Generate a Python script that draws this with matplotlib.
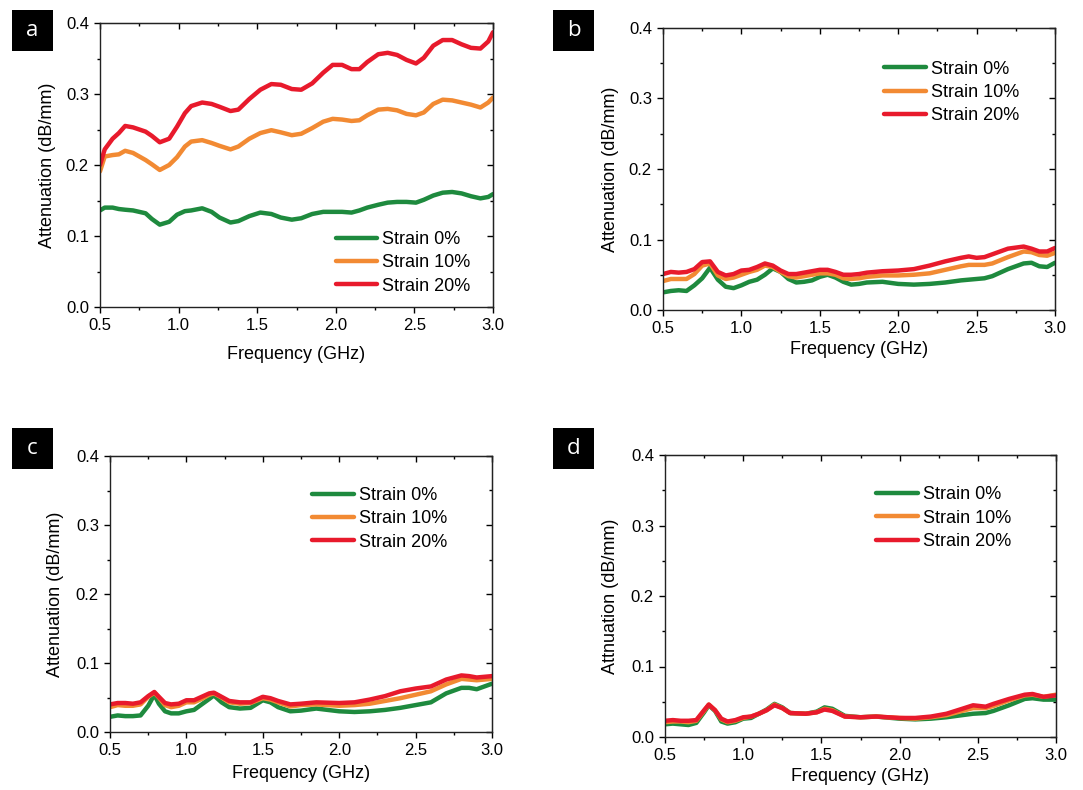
import matplotlib
matplotlib.use("Agg")
import matplotlib.pyplot as plt
from matplotlib.patches import Rectangle
from matplotlib.ticker import MultipleLocator

plt.rcParams['font.family'] = ['Liberation Sans', 'DejaVu Sans']

# ---------------- data ----------------
series_labels = ["Strain 0%", "Strain 10%", "Strain 20%"]
colors = ["#1E8A3E", "#F28A33", "#E81A2C"]

freq_a = [0.5, 0.53, 0.58, 0.62, 0.66, 0.71, 0.79, 0.83, 0.88, 0.94, 0.99, 1.04, 1.08, 1.15,
          1.21, 1.26, 1.33, 1.38, 1.45, 1.52, 1.59, 1.65, 1.72, 1.78, 1.85, 1.92, 1.98, 2.04,
          2.1, 2.15, 2.2, 2.27, 2.33, 2.39, 2.45, 2.51, 2.56, 2.62, 2.68, 2.74, 2.8, 2.86,
          2.92, 2.97, 3.0]
a_s0 = [0.136, 0.140, 0.140, 0.138, 0.137, 0.136, 0.132, 0.124, 0.116, 0.120, 0.130, 0.135,
        0.136, 0.139, 0.134, 0.126, 0.119, 0.121, 0.128, 0.133, 0.131, 0.126, 0.123, 0.125,
        0.131, 0.134, 0.134, 0.134, 0.133, 0.136, 0.140, 0.144, 0.147, 0.148, 0.148, 0.147,
        0.151, 0.157, 0.161, 0.162, 0.160, 0.156, 0.153, 0.155, 0.159]
a_s10 = [0.191, 0.212, 0.214, 0.215, 0.220, 0.217, 0.207, 0.201, 0.193, 0.200, 0.211, 0.226,
         0.233, 0.235, 0.231, 0.227, 0.222, 0.226, 0.237, 0.245, 0.249, 0.246, 0.242, 0.244,
         0.252, 0.261, 0.265, 0.264, 0.262, 0.263, 0.270, 0.278, 0.279, 0.277, 0.272, 0.270,
         0.274, 0.286, 0.292, 0.291, 0.288, 0.285, 0.281, 0.288, 0.295]
a_s20 = [0.200, 0.222, 0.237, 0.245, 0.255, 0.253, 0.247, 0.241, 0.232, 0.237, 0.254, 0.273,
         0.283, 0.288, 0.286, 0.282, 0.276, 0.278, 0.293, 0.306, 0.314, 0.313, 0.307, 0.306,
         0.315, 0.330, 0.341, 0.341, 0.335, 0.335, 0.345, 0.356, 0.358, 0.355, 0.348, 0.343,
         0.351, 0.368, 0.376, 0.376, 0.370, 0.365, 0.364, 0.374, 0.387]

freq_b = [0.5, 0.55, 0.6, 0.65, 0.7, 0.75, 0.8, 0.85, 0.9, 0.95, 1.0, 1.05, 1.1, 1.15, 1.2,
          1.25, 1.3, 1.35, 1.4, 1.45, 1.5, 1.55, 1.6, 1.65, 1.7, 1.75, 1.8, 1.9, 2.0, 2.1,
          2.2, 2.3, 2.4, 2.45, 2.5, 2.55, 2.6, 2.7, 2.8, 2.85, 2.9, 2.95, 3.0]
b_s0 = [0.025, 0.027, 0.028, 0.027, 0.035, 0.045, 0.060, 0.043, 0.033, 0.031, 0.035, 0.040,
        0.043, 0.050, 0.059, 0.054, 0.044, 0.039, 0.040, 0.042, 0.047, 0.050, 0.046, 0.040,
        0.036, 0.037, 0.039, 0.040, 0.037, 0.036, 0.037, 0.039, 0.042, 0.043, 0.044, 0.045,
        0.048, 0.058, 0.066, 0.067, 0.062, 0.061, 0.067]
b_s10 = [0.041, 0.044, 0.044, 0.044, 0.051, 0.063, 0.066, 0.049, 0.044, 0.046, 0.050, 0.054,
         0.057, 0.063, 0.061, 0.054, 0.048, 0.046, 0.048, 0.050, 0.052, 0.052, 0.050, 0.045,
         0.044, 0.045, 0.047, 0.049, 0.049, 0.050, 0.052, 0.057, 0.062, 0.064, 0.064, 0.064,
         0.066, 0.075, 0.083, 0.082, 0.078, 0.077, 0.081]
b_s20 = [0.051, 0.054, 0.053, 0.054, 0.058, 0.068, 0.069, 0.054, 0.049, 0.051, 0.056, 0.057,
         0.061, 0.066, 0.063, 0.056, 0.051, 0.051, 0.053, 0.055, 0.057, 0.057, 0.054, 0.050,
         0.050, 0.051, 0.053, 0.055, 0.056, 0.058, 0.063, 0.069, 0.074, 0.076, 0.074, 0.075,
         0.079, 0.087, 0.090, 0.087, 0.083, 0.083, 0.088]

freq_c = [0.5, 0.55, 0.6, 0.65, 0.7, 0.75, 0.79, 0.82, 0.86, 0.9, 0.95, 1.0, 1.05, 1.1, 1.15,
          1.18, 1.23, 1.28, 1.35, 1.42, 1.5, 1.55, 1.6, 1.68, 1.75, 1.85, 2.0, 2.1, 2.2, 2.3,
          2.4, 2.5, 2.6, 2.7, 2.8, 2.85, 2.9, 3.0]
c_s0 = [0.022, 0.024, 0.023, 0.023, 0.024, 0.038, 0.054, 0.041, 0.030, 0.027, 0.027, 0.030,
        0.032, 0.040, 0.048, 0.053, 0.043, 0.036, 0.034, 0.035, 0.046, 0.043, 0.036, 0.030,
        0.031, 0.034, 0.030, 0.029, 0.030, 0.032, 0.035, 0.039, 0.043, 0.056, 0.064, 0.064,
        0.062, 0.070]
c_s10 = [0.036, 0.039, 0.038, 0.038, 0.040, 0.051, 0.057, 0.050, 0.039, 0.036, 0.038, 0.043,
         0.043, 0.048, 0.054, 0.056, 0.050, 0.043, 0.041, 0.042, 0.049, 0.047, 0.043, 0.037,
         0.039, 0.040, 0.038, 0.039, 0.041, 0.045, 0.049, 0.054, 0.059, 0.069, 0.077, 0.076,
         0.075, 0.077]
c_s20 = [0.040, 0.042, 0.042, 0.041, 0.043, 0.052, 0.058, 0.051, 0.042, 0.040, 0.041, 0.046,
         0.046, 0.051, 0.056, 0.057, 0.051, 0.045, 0.043, 0.043, 0.051, 0.049, 0.045, 0.040,
         0.041, 0.043, 0.042, 0.043, 0.047, 0.052, 0.059, 0.063, 0.066, 0.076, 0.082, 0.081,
         0.079, 0.081]

freq_d = [0.5, 0.55, 0.6, 0.65, 0.7, 0.75, 0.78, 0.82, 0.86, 0.9, 0.95, 1.0, 1.05, 1.1, 1.15,
          1.2, 1.25, 1.3, 1.4, 1.47, 1.52, 1.57, 1.65, 1.75, 1.85, 2.0, 2.1, 2.2, 2.3, 2.4,
          2.47, 2.55, 2.6, 2.7, 2.8, 2.85, 2.92, 3.0]
d_s0 = [0.018, 0.019, 0.018, 0.017, 0.020, 0.035, 0.045, 0.037, 0.022, 0.019, 0.021, 0.026,
        0.027, 0.033, 0.039, 0.047, 0.042, 0.034, 0.033, 0.036, 0.042, 0.040, 0.030, 0.028,
        0.029, 0.026, 0.025, 0.026, 0.028, 0.031, 0.033, 0.034, 0.037, 0.045, 0.054, 0.055,
        0.053, 0.053]
d_s10 = [0.021, 0.022, 0.022, 0.021, 0.023, 0.037, 0.046, 0.038, 0.025, 0.021, 0.023, 0.027,
         0.029, 0.033, 0.038, 0.046, 0.041, 0.034, 0.033, 0.035, 0.040, 0.038, 0.029, 0.028,
         0.029, 0.027, 0.026, 0.028, 0.031, 0.037, 0.041, 0.041, 0.044, 0.052, 0.059, 0.060,
         0.057, 0.060]
d_s20 = [0.023, 0.024, 0.023, 0.023, 0.024, 0.038, 0.046, 0.038, 0.026, 0.022, 0.024, 0.028,
         0.029, 0.033, 0.038, 0.045, 0.041, 0.034, 0.033, 0.035, 0.039, 0.037, 0.029, 0.028,
         0.029, 0.027, 0.027, 0.029, 0.033, 0.040, 0.045, 0.043, 0.047, 0.054, 0.060, 0.061,
         0.057, 0.059]

panel_letters = ["a", "b", "c", "d"]
ylabels = ["Attenuation (dB/mm)", "Attenuation (dB/mm)", "Attenuation (dB/mm)", "Attnuation (dB/mm)"]
xlabel = "Frequency (GHz)"

# ---------------- layout ----------------
W, H = 1083, 790
fig = plt.figure(figsize=(W / 100, H / 100), dpi=100)

def fr(x0, y0, x1, y1):
    return [x0 / W, 1 - y1 / H, (x1 - x0) / W, (y1 - y0) / H]

panels = [
    dict(rect=fr(100, 23, 493, 307), freq=freq_a, data=[a_s0, a_s10, a_s20],
         leg=(0.600, 0.268), ylc=-0.112, xlc=-0.138, box=(12, 10)),
    dict(rect=fr(663, 28, 1055, 310), freq=freq_b, data=[b_s0, b_s10, b_s20],
         leg=(0.564, 0.884), ylc=-0.112, xlc=-0.11, box=(553, 10)),
    dict(rect=fr(110, 456, 492, 732), freq=freq_c, data=[c_s0, c_s10, c_s20],
         leg=(0.529, 0.888), ylc=-0.12, xlc=-0.12, box=(12, 428)),
    dict(rect=fr(665, 455, 1056, 737), freq=freq_d, data=[d_s0, d_s10, d_s20],
         leg=(0.540, 0.889), ylc=-0.118, xlc=-0.11, box=(553, 428)),
]

for i, p in enumerate(panels):
    ax = fig.add_axes(p["rect"])
    for vals, col, lab in zip(p["data"], colors, series_labels):
        ax.plot(p["freq"], vals, color=col, lw=3.2, label=lab, solid_capstyle='round')
    ax.set_xlim(0.5, 3.0)
    ax.set_ylim(0.0, 0.4)
    ax.xaxis.set_major_locator(MultipleLocator(0.5))
    ax.xaxis.set_minor_locator(MultipleLocator(0.25))
    ax.yaxis.set_major_locator(MultipleLocator(0.1))
    ax.yaxis.set_minor_locator(MultipleLocator(0.05))
    ax.xaxis.set_major_formatter(matplotlib.ticker.FormatStrFormatter('%.1f'))
    ax.yaxis.set_major_formatter(matplotlib.ticker.FormatStrFormatter('%.1f'))
    ax.tick_params(which='major', direction='out', length=4, width=1, labelsize=12, pad=4)
    ax.tick_params(which='minor', direction='out', length=2.5, width=1)
    for s in ax.spines.values():
        s.set_linewidth(1.0)
        s.set_color('#222222')
    # mirrored inward ticks on top and right
    top = ax.secondary_xaxis('top')
    top.xaxis.set_major_locator(MultipleLocator(0.5))
    top.xaxis.set_minor_locator(MultipleLocator(0.25))
    top.tick_params(which='major', direction='in', length=4, width=1, labeltop=False)
    top.tick_params(which='minor', direction='in', length=2.5, width=1)
    right = ax.secondary_yaxis('right')
    right.yaxis.set_major_locator(MultipleLocator(0.1))
    right.yaxis.set_minor_locator(MultipleLocator(0.05))
    right.tick_params(which='major', direction='in', length=4, width=1, labelright=False)
    right.tick_params(which='minor', direction='in', length=2.5, width=1)

    ax.set_ylabel(ylabels[i], fontsize=13)
    ax.yaxis.set_label_coords(p["ylc"], 0.5)
    ax.set_xlabel(xlabel, fontsize=13, va='top')
    ax.xaxis.set_label_coords(0.5, p["xlc"])

    ax.legend(loc='upper left', bbox_to_anchor=p["leg"], frameon=False, fontsize=13,
              handlelength=2.3, handletextpad=0.28, labelspacing=0.35, borderpad=0,
              borderaxespad=0)

    bx, by = p["box"]
    fig.patches.append(Rectangle((bx / W, 1 - (by + 41) / H), 41 / W, 41 / H,
                                 transform=fig.transFigure, facecolor='black',
                                 edgecolor='none'))
    fig.text((bx + 20.5) / W, 1 - (by + 21) / H, panel_letters[i], color='white',
             fontsize=16, ha='center', va='center', family=['Open Sans', 'DejaVu Sans'])

fig.savefig("out.png", dpi=100)
